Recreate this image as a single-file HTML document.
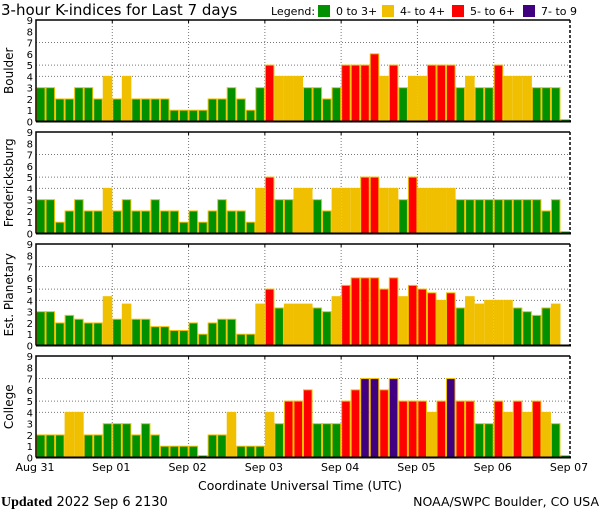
<!DOCTYPE html>
<html><head><meta charset="utf-8">
<style>
html,body{margin:0;padding:0;background:#fff;width:600px;height:510px;overflow:hidden}
svg{display:block;font-family:"DejaVu Sans","Liberation Sans",sans-serif}
</style></head>
<body>
<svg id="chart" width="600" height="510" viewBox="0 0 600 510" xmlns="http://www.w3.org/2000/svg">
  <text x="1" y="15" font-size="15" fill="#000">3-hour K-indices for Last 7 days</text>
  <g font-size="11" fill="#000">
    <text x="271" y="15">Legend:</text>
    <rect x="318" y="5" width="12" height="12" fill="#009000"/>
    <text x="336" y="15">0 to 3+</text>
    <rect x="382" y="5" width="12" height="12" fill="#f0c000"/>
    <text x="400" y="15">4- to 4+</text>
    <rect x="452" y="5" width="12" height="12" fill="#ff0000"/>
    <text x="470" y="15">5- to 6+</text>
    <rect x="523" y="5" width="12" height="12" fill="#400080"/>
    <text x="541" y="15">7- to 9</text>
  </g>
  <g id="panels"></g>
  <g id="xlabels" font-size="11" fill="#000"></g>
  <text x="300" y="490" font-size="12.5" text-anchor="middle" fill="#000">Coordinate Universal Time (UTC)</text>
  <text x="1" y="506" font-size="13" fill="#000"><tspan font-family="Liberation Serif,serif" font-weight="bold" font-size="14">Updated</tspan> 2022 Sep  6 2130</text>
  <text x="599" y="506" font-size="12.5" text-anchor="end" fill="#000">NOAA/SWPC Boulder, CO USA</text>
</svg>
<script>
const stations = ["Boulder", "Fredericksburg", "Est. Planetary", "College"];
const dayLabels = ["Aug 31", "Sep 01", "Sep 02", "Sep 03", "Sep 04", "Sep 05", "Sep 06", "Sep 07"];
const yTicks = [0,1,2,3,4,5,6,7,8,9];
const boulder = [3,3,2,2,3,3,2,4, 2,4,2,2,2,2,1,1, 1,1,2,2,3,2,1,3, 5,4,4,4,3,3,2,3, 5,5,5,6,4,5,3,4, 4,5,5,5,3,4,3,3, 5,4,4,4,3,3,3,0];
const fredericksburg = [3,3,1,2,3,2,2,4, 2,3,2,2,3,2,2,1, 2,1,2,3,2,2,1,4, 5,3,3,4,4,3,2,4, 4,4,5,5,4,4,3,5, 4,4,4,4,3,3,3,3, 3,3,3,3,3,2,3,0];
const planetary = [3,3,2,2.67,2.33,2,2,4.33, 2.33,3.67,2.33,2.33,1.67,1.67,1.33,1.33, 2,1,2,2.33,2.33,1,1,3.67, 5,3.33,3.67,3.67,3.67,3.33,3,4.33, 5.33,6,6,6,5,6,4.33,5.33, 5,4.67,4,4.67,3.33,4.33,3.67,4, 4,4,3.33,3,2.67,3.33,3.67,null];
const college = [2,2,2,4,4,2,2,3, 3,3,2,3,2,1,1,1, 1,0,2,2,4,1,1,1, 4,3,5,5,6,3,3,3, 5,6,7,7,6,7,5,5, 5,4,5,7,5,5,3,3, 5,4,5,4,5,4,3,0];
const series = [boulder, fredericksburg, planetary, college];

const NS = "http://www.w3.org/2000/svg";
const X0 = 36, X1 = 570, NB = 56;
const panelTops = [20, 132, 244, 356], PH = 101.5;
const bw = (X1 - X0) / NB;
function xScale(i){ return X0 + i * bw; }
function dayX(d){ return X0 + d * (X1 - X0) / 7; }
function mk(tag, attrs, parent){ const e = document.createElementNS(NS, tag); for (const k in attrs) e.setAttribute(k, attrs[k]); parent.appendChild(e); return e; }
function color(v){ return v < 3.5 ? "#009000" : v < 4.5 ? "#f0c000" : v < 6.5 ? "#ff0000" : "#400080"; }
const panels = document.getElementById("panels");

series.forEach((vals, p) => {
  const top = panelTops[p], base = top + PH;
  const yScale = v => base - v * PH / 9;
  const g = mk("g", {}, panels);
  
  
  // grid
  [4,5,7].forEach(v => {
    const l = mk("line", {x1: X0, x2: X1, y1: yScale(v), y2: yScale(v), stroke: "#777", "stroke-dasharray": "1,2", "stroke-width": 1}, g);
    
    
  });
  for (let d = 1; d < 7; d++) {
    const l = mk("line", {x1: dayX(d), x2: dayX(d), y1: top, y2: base, stroke: "#777", "stroke-dasharray": "1,2", "stroke-width": 1}, g);
    
    
  }
  // bars
  vals.forEach((v, i) => {
    if (v === null) return;
    const h = Math.max(v * PH / 9, 2);
    const r = mk("rect", {x: xScale(i) + 0.5, y: base - h, width: bw - 1, height: h, fill: color(v), stroke: "#f0c000", "stroke-width": 1}, g);
    
    
  });
  // axes frame
  const fr = mk("path", {d: `M${X0},${base} L${X0},${top} L${X1},${top}`, fill: "none", stroke: "#000", "stroke-width": 1.5}, g);
  
  
  const rb = mk("line", {x1: X1, x2: X1, y1: top, y2: base, stroke: "#000", "stroke-width": 1.5, "stroke-dasharray": "3,2"}, g);
  
  
  const xa = mk("line", {x1: X0, x2: X1 + 1, y1: base, y2: base, stroke: "#000", "stroke-width": 2}, g);
  
  
  for (let d = 1; d < 7; d++) {
    const t = mk("line", {x1: dayX(d), x2: dayX(d), y1: top, y2: top + 3, stroke: "#000", "stroke-width": 1}, g);
    
    
  }
  yTicks.forEach(v => {
    const t = mk("text", {x: 33, y: yScale(v) + 4, "font-size": 10, "text-anchor": "end", fill: "#000"}, g);
    
    
    t.textContent = v;
  });
  const yt = mk("text", {x: 0, y: 0, "font-size": 12, "text-anchor": "middle", fill: "#000", transform: `translate(13,${top + PH/2}) rotate(-90)`}, g);
  
  
  yt.textContent = stations[p];
});

const xl = document.getElementById("xlabels");
dayLabels.forEach((s, d) => {
  const t = mk("text", {x: dayX(d) - 1, y: 471, "text-anchor": "middle"}, xl);
  
  
  t.textContent = s;
});
</script>
</body></html>
